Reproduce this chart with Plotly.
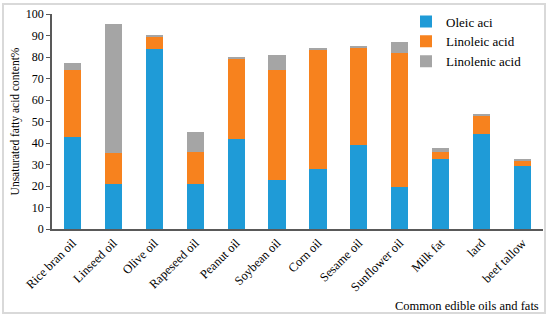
import plotly.graph_objects as go

categories = ["Rice bran oil", "Linseed oil", "Olive oil", "Rapeseed oil", "Peanut oil",
              "Soybean oil", "Corn oil", "Sesame oil", "Sunflower oil", "Milk fat",
              "lard", "beef tallow"]
oleic = [43, 21, 83.5, 21, 42, 23, 28, 39, 19.5, 32.5, 44, 29.5]
linoleic = [31, 14.5, 6, 15, 37.5, 51, 55.5, 45.5, 62.5, 3.5, 9, 2.5]
linolenic = [3, 59.7, 0.5, 9, 0.3, 7, 0.5, 0.3, 5, 1.5, 0.3, 0.3]
series_names = ["Oleic aci", "Linoleic acid", "Linolenic acid"]
y_ticks = [0, 10, 20, 30, 40, 50, 60, 70, 80, 90, 100]

colors = ["#1F9BD7", "#F7821E", "#A5A5A5"]
font_family = "Liberation Serif, Times New Roman, serif"

fig = go.Figure()
for name, vals, c in zip(series_names, [oleic, linoleic, linolenic], colors):
    fig.add_trace(go.Bar(x=categories, y=vals, name=name, marker_color=c,
                         marker_line_width=0, width=0.42))

fig.update_layout(
    barmode="stack",
    width=550, height=320,
    margin=dict(l=52, r=7, t=14, b=91, autoexpand=False),
    plot_bgcolor="white", paper_bgcolor="white",
    font=dict(family=font_family, size=12, color="black"),
    legend=dict(x=(406 - 52) / 491, y=1.035, xanchor="left", yanchor="top", traceorder="normal",
                font=dict(size=13, family=font_family), bgcolor="rgba(0,0,0,0)",
                itemwidth=30, tracegroupgap=0),
    showlegend=True,
)
fig.update_yaxes(range=[0, 100], tickvals=y_ticks, showline=True, linecolor="#595959",
                 linewidth=1.5, ticks="outside", ticklen=4, tickcolor="#595959",
                 showgrid=False, zeroline=False, automargin=False,
                 title=dict(text="Unsaturated fatty acid content%", font=dict(size=11.5), standoff=4),
                 tickfont=dict(size=12))
fig.update_xaxes(showline=True, linecolor="#595959", linewidth=1.5, ticks="",
                 tickangle=-45, tickfont=dict(size=12.5), showgrid=False, automargin=False)

fig.add_annotation(text="Common edible oils and fats", xref="paper", yref="paper",
                   x=(541 - 52) / 491, y=(229 - 306) / 215, xanchor="right", yanchor="middle",
                   showarrow=False, font=dict(size=12.5, family=font_family))

fig.add_shape(type="rect", xref="paper", yref="paper",
              x0=(3 - 52) / 491, x1=(545 - 52) / 491,
              y0=(229 - 313) / 215, y1=(229 - 4) / 215,
              line=dict(color="#D9D9D9", width=2), fillcolor="rgba(0,0,0,0)", layer="below")

fig.write_html("out.html", config={"displayModeBar": False},
               post_script="document.body.style.margin='0';")
